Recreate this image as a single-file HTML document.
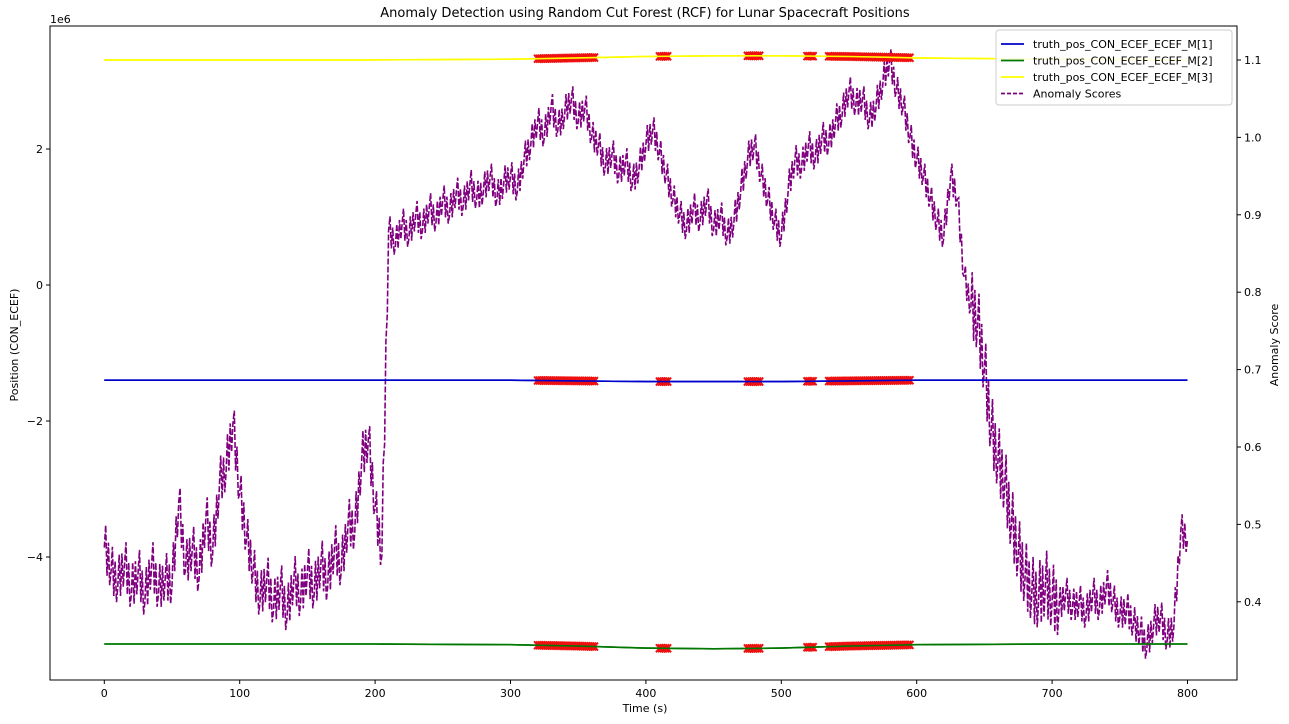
<!DOCTYPE html>
<html><head><meta charset="utf-8">
<style>
body{margin:0;background:#fff;}
svg{display:block;font-family:"DejaVu Sans","Liberation Sans",sans-serif;}
</style></head>
<body>
<svg id="chart" width="1289" height="724" xmlns="http://www.w3.org/2000/svg">
<text x="645" y="17" font-size="13" text-anchor="middle">Anomaly Detection using Random Cut Forest (RCF) for Lunar Spacecraft Positions</text>
<text x="50" y="23" font-size="11">1e6</text>
<text x="645" y="712" font-size="11" text-anchor="middle">Time (s)</text>
<text transform="translate(18,345) rotate(-90)" font-size="11" text-anchor="middle">Position (CON_ECEF)</text>
<text transform="translate(1278,345) rotate(-90)" font-size="11" text-anchor="middle">Anomaly Score</text>
<g id="plot"></g>
</svg>
<script>
const timeTicks=[0,100,200,300,400,500,600,700,800];
const posTicks=[2,0,-2,-4];
const scoreTicks=[1.1,1.0,0.9,0.8,0.7,0.6,0.5,0.4];
const posTimes=[0,200,300,350,400,450,500,550,600,700,800];
const pos1=[-1.40,-1.40,-1.40,-1.41,-1.42,-1.42,-1.42,-1.41,-1.40,-1.40,-1.40];
const pos2=[-5.28,-5.28,-5.29,-5.31,-5.34,-5.35,-5.34,-5.31,-5.29,-5.28,-5.28];
const pos3=[3.31,3.31,3.32,3.34,3.36,3.37,3.37,3.36,3.34,3.32,3.31];
const scoreStep=5;
const scores=[0.47,0.44,0.42,0.45,0.41,0.44,0.40,0.45,0.41,0.43,0.42,0.53,0.44,0.47,0.43,0.51,0.46,0.55,0.57,0.63,0.54,0.48,0.44,0.40,0.43,0.39,0.42,0.38,0.43,0.40,0.44,0.41,0.45,0.42,0.47,0.44,0.50,0.49,0.58,0.61,0.52,0.46,0.88,0.86,0.89,0.87,0.90,0.88,0.91,0.89,0.92,0.90,0.93,0.91,0.94,0.92,0.93,0.95,0.92,0.94,0.95,0.93,0.97,0.99,1.02,1.00,1.04,1.01,1.03,1.05,1.02,1.04,1.00,0.99,0.96,0.98,0.95,0.97,0.94,0.96,0.99,1.01,0.98,0.95,0.92,0.90,0.88,0.91,0.89,0.92,0.88,0.90,0.87,0.89,0.93,0.97,0.99,0.95,0.92,0.89,0.87,0.93,0.97,0.96,0.99,0.97,1.00,0.99,1.02,1.03,1.06,1.04,1.05,1.02,1.04,1.07,1.10,1.06,1.04,1.00,0.97,0.95,0.92,0.89,0.87,0.95,0.92,0.82,0.78,0.76,0.70,0.62,0.58,0.55,0.50,0.46,0.43,0.41,0.40,0.42,0.40,0.39,0.41,0.39,0.40,0.38,0.41,0.39,0.42,0.40,0.38,0.39,0.37,0.36,0.34,0.37,0.38,0.35,0.37,0.49,0.48];
// jitter band half-width of the noisy score trace, per time segment [start,end,halfWidth]
const scoreJitter=[[0,205,0.035],[205,635,0.022],[635,700,0.05],[700,800,0.025]];
const anomalyRanges=[[320,362],[410,416],[475,484],[519,524],[535,596]];

const L=50,R=1237,T=26,B=680;
const xs=t=>104.3+t*1.354;
const yp=v=>285-v*68;
const ys=s=>60+(1.1-s)*774;
const NS="http://www.w3.org/2000/svg";
const g=document.getElementById('plot');
function mk(tag,attrs,parent){const e=document.createElementNS(NS,tag);for(const k in attrs)e.setAttribute(k,attrs[k]);(parent||g).appendChild(e);return e;}
function interp(ts,vs,t){for(let i=1;i<ts.length;i++){if(t<=ts[i]){const f=(t-ts[i-1])/(ts[i]-ts[i-1]);return vs[i-1]+f*(vs[i]-vs[i-1]);}}return vs[vs.length-1];}
function jitterAt(t){for(const [a,b,w] of scoreJitter){if(t>=a&&t<=b)return w;}return 0.03;}

// scores (dashed purple) with zigzag jitter
let d='';
const sub=5;
scores.forEach((s,i)=>{
  const t=i*scoreStep;
  d+=(i?'L':'M')+xs(t).toFixed(1)+','+ys(s).toFixed(1);
  if(i<scores.length-1){
    const n=scores[i+1],w=jitterAt(t);
    for(let k=1;k<sub;k++){
      const f=k/sub,tt=t+f*scoreStep,v=s+f*(n-s)+(k%2?w:-w)*(k%4==1?1:0.7);
      d+='L'+xs(tt).toFixed(1)+','+ys(v).toFixed(1);
    }
  }
});
const sc=mk('path',{d:d,fill:'none',stroke:'#800080','stroke-width':1.6,'stroke-dasharray':'6,2'});



// position lines
const series=[[pos1,'#0000cc','pos-m1-line'],[pos2,'#007700','pos-m2-line'],[pos3,'#ffff00','pos-m3-line']];
series.forEach(([vals,col,name])=>{
  let p='';
  vals.forEach((v,i)=>{p+=(i?'L':'M')+xs(posTimes[i]).toFixed(1)+','+yp(v).toFixed(1);});
  const e=mk('path',{d:p,fill:'none',stroke:col,'stroke-width':1.6});
  
  
});
// anomaly markers
series.forEach(([vals,col,name])=>{
  const grp=mk('g',{stroke:'#ee1111','stroke-width':2});
  
  
  anomalyRanges.forEach(([a,b])=>{
    for(let t=a;t<=b;t+=1.5){
      const x=xs(t),y=yp(interp(posTimes,vals,t));
      mk('path',{d:`M${x-3.5},${y-4}L${x+3.5},${y+4}M${x-3.5},${y+4}L${x+3.5},${y-4}`},grp);
    }
  });
});
series.forEach(([vals,col,name])=>{
  let p='';
  vals.forEach((v,i)=>{p+=(i?'L':'M')+xs(posTimes[i]).toFixed(1)+','+yp(v).toFixed(1);});
  const e=mk('path',{d:p,fill:'none',stroke:col,'stroke-width':1.6});
  
  
});

// frame
const fr=mk('rect',{x:L,y:T,width:R-L,height:B-T,fill:'none',stroke:'#000','stroke-width':1});


timeTicks.forEach(t=>{
  mk('line',{x1:xs(t),x2:xs(t),y1:B,y2:B+4,stroke:'#000'});
  const e=mk('text',{x:xs(t),y:B+17,'font-size':11,'text-anchor':'middle'});e.textContent=t;
  
  
});
posTicks.forEach(v=>{
  mk('line',{x1:L-4,x2:L,y1:yp(v),y2:yp(v),stroke:'#000'});
  const e=mk('text',{x:L-7,y:yp(v)+4,'font-size':11,'text-anchor':'end'});e.textContent=(v<0?'\u2212'+(-v):v);
  
  
});
scoreTicks.forEach(v=>{
  mk('line',{x1:R,x2:R+4,y1:ys(v),y2:ys(v),stroke:'#000'});
  const e=mk('text',{x:R+7,y:ys(v)+4,'font-size':11});e.textContent=v.toFixed(1);
  
  
});
// legend
const lg=mk('g',{});


mk('rect',{x:996,y:30,width:236,height:75,rx:3,fill:'#fff','fill-opacity':0.85,stroke:'#ccc'},lg);
const items=[['truth_pos_CON_ECEF_ECEF_M[1]','#0000cc',''],['truth_pos_CON_ECEF_ECEF_M[2]','#007700',''],['truth_pos_CON_ECEF_ECEF_M[3]','#ffff00',''],['Anomaly Scores','#800080','4,2']];
items.forEach(([lab,col,da],i)=>{
  const y=44+i*16.5;
  const le=mk('g',{},lg);
  
  
  mk('line',{x1:1001,x2:1024,y1:y,y2:y,stroke:col,'stroke-width':1.8,'stroke-dasharray':da||'none'},le);
  const t=mk('text',{x:1033,y:y+4,'font-size':11},le);t.textContent=lab;
});
</script>
</body></html>
